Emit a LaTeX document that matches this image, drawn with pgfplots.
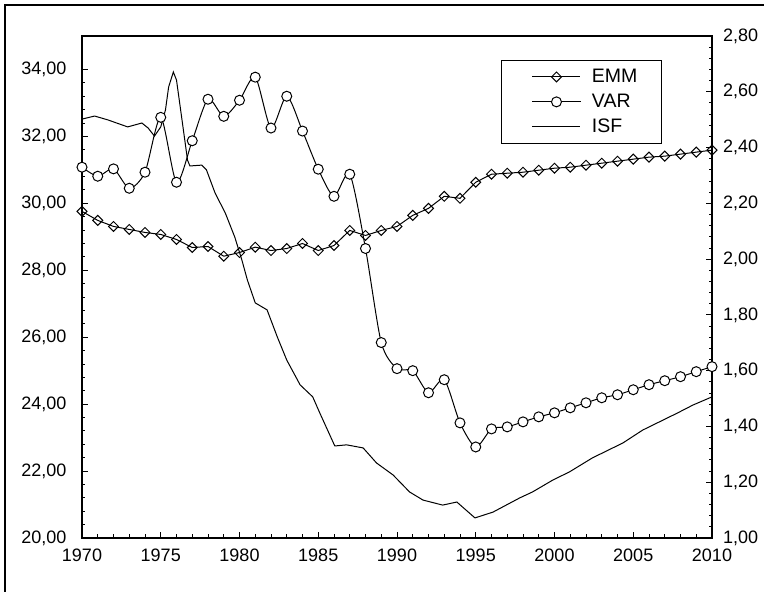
\documentclass[border=0pt]{standalone}
\usepackage{fontspec}
\setmainfont{Liberation Sans}
\usepackage{pgfplots}
\pgfplotsset{compat=1.18}
\begin{document}
\begin{tikzpicture}
\useasboundingbox (-82pt,-54pt) rectangle (682pt,538pt);
\pgfplotsset{
 common/.style={
  scale only axis, width=630pt, height=502pt,
  at={(0pt,0pt)}, anchor=south west,
  xmin=1970, xmax=2010,
  tick align=inside,
  major tick length=6pt, minor tick length=3.5pt,
  every tick/.style={black, line width=0.9pt},
  axis line style={line width=1.3pt},
  tick label style={font=\fontsize{18}{21}\selectfont},
  /pgf/number format/assume math mode=true,
 }
}
% right axis : ISF
\begin{axis}[common,
  axis x line=none, axis y line*=right,
  ymin=1, ymax=2.8,
  ytick={1,1.2,1.4,1.6,1.8,2,2.2,2.4,2.6,2.8},
  minor y tick num=4,
  yticklabel style={/pgf/number format/fixed, /pgf/number format/fixed zerofill,
    /pgf/number format/precision=2, /pgf/number format/use comma, xshift=7.5pt},
]
\addplot[black, line width=1pt] coordinates {
(1970.0,2.502) (1970.8,2.513) (1971.65,2.499) (1972.9,2.474) (1973.8,2.488)
(1974.2,2.470) (1974.6,2.441) (1975.0,2.474) (1975.3,2.535) (1975.5,2.617)
(1975.8,2.671) (1976.0,2.642) (1976.35,2.499) (1976.7,2.355) (1976.85,2.334)
(1977.6,2.337) (1977.9,2.320) (1978.45,2.237) (1979.1,2.165) (1979.7,2.079)
(1980.15,1.997) (1980.5,1.925) (1981.0,1.843) (1981.75,1.818) (1982.4,1.721)
(1983.0,1.638) (1983.85,1.549) (1984.65,1.506) (1985.1,1.448) (1986.05,1.330)
(1986.8,1.334) (1987.85,1.323) (1988.7,1.269) (1989.75,1.226) (1990.8,1.165)
(1991.65,1.136) (1992.9,1.118) (1993.8,1.129) (1994.95,1.072) (1996.1,1.093)
(1997.8,1.144) (1998.6,1.165) (1999.9,1.208) (2000.95,1.237) (2002.4,1.287)
(2004.35,1.341) (2005.6,1.387) (2007.8,1.448) (2008.8,1.477) (2010,1.506)
};
\end{axis}
% left axis : EMM, VAR
\begin{axis}[common,
  tick pos=left,
  ymin=20, ymax=35,
  ytick={20,22,24,26,28,30,32,34},
  minor y tick num=4,
  xtick={1970,1975,...,2010},
  minor x tick num=4,
  xticklabel style={/pgf/number format/1000 sep={}, yshift=-7pt},
  yticklabel style={/pgf/number format/fixed, /pgf/number format/fixed zerofill,
    /pgf/number format/precision=2, /pgf/number format/use comma, xshift=-12pt},
  legend style={at={(0.9206,0.9522)}, anchor=north east, draw=black, line width=1pt,
    fill=white, font=\fontsize{19.5}{22}\selectfont, inner xsep=19pt, inner ysep=4pt,
    nodes={inner sep=5pt}, cells={anchor=west}},
  legend image code/.code={\path (-11pt,0pt) (54pt,0pt);
    \draw[mark repeat=2, mark phase=2, #1]
    plot coordinates {(0pt,0pt) (24pt,0pt) (48pt,0pt)};},
]
\addplot[black, line width=1pt, mark=square, mark size=3.5pt,
  mark options={fill=white, solid, rotate=45, line width=1pt}] coordinates {
(1970,29.76) (1971,29.49) (1972,29.31) (1973,29.22) (1974,29.13)
(1975,29.07) (1976,28.92) (1977,28.68) (1978,28.71) (1979,28.42)
(1980,28.53) (1981,28.69) (1982,28.59) (1983,28.65) (1984,28.80)
(1985,28.59) (1986,28.74) (1987,29.19) (1988,29.04) (1989,29.19)
(1990,29.31) (1991,29.64) (1992,29.85) (1993,30.21) (1994,30.15)
(1995,30.63) (1996,30.87) (1997,30.90) (1998,30.93) (1999,30.99)
(2000,31.05) (2001,31.08) (2002,31.14) (2003,31.20) (2004,31.26)
(2005,31.32) (2006,31.38) (2007,31.41) (2008,31.47) (2009,31.53)
(2010,31.59)
};
\addlegendentry{EMM}
\addplot[black, line width=1pt, smooth, tension=0.45, mark=*, mark size=5pt,
  mark options={fill=white, solid, line width=1pt}] coordinates {
(1970,31.08) (1971,30.81) (1972,31.03) (1973,30.45) (1974,30.93)
(1975,32.57) (1976,30.63) (1977,31.87) (1978,33.11) (1979,32.60)
(1980,33.08) (1981,33.77) (1982,32.25) (1983,33.20) (1984,32.16)
(1985,31.02) (1986,30.21) (1987,30.87) (1988,28.65) (1989,25.84)
(1990,25.06) (1991,25.00) (1992,24.34) (1993,24.73) (1994,23.44)
(1995,22.72) (1996,23.26) (1997,23.32) (1998,23.47) (1999,23.62)
(2000,23.74) (2001,23.89) (2002,24.04) (2003,24.19) (2004,24.28)
(2005,24.43) (2006,24.58) (2007,24.70) (2008,24.82) (2009,24.97)
(2010,25.12)
};
\addlegendentry{VAR}
\addlegendimage{black, line width=1pt}
\addlegendentry{ISF}
\end{axis}
\draw[line width=1.5pt] (-77pt,-54pt) -- (-77pt,533pt) -- (682pt,533pt);
\end{tikzpicture}
\end{document}
